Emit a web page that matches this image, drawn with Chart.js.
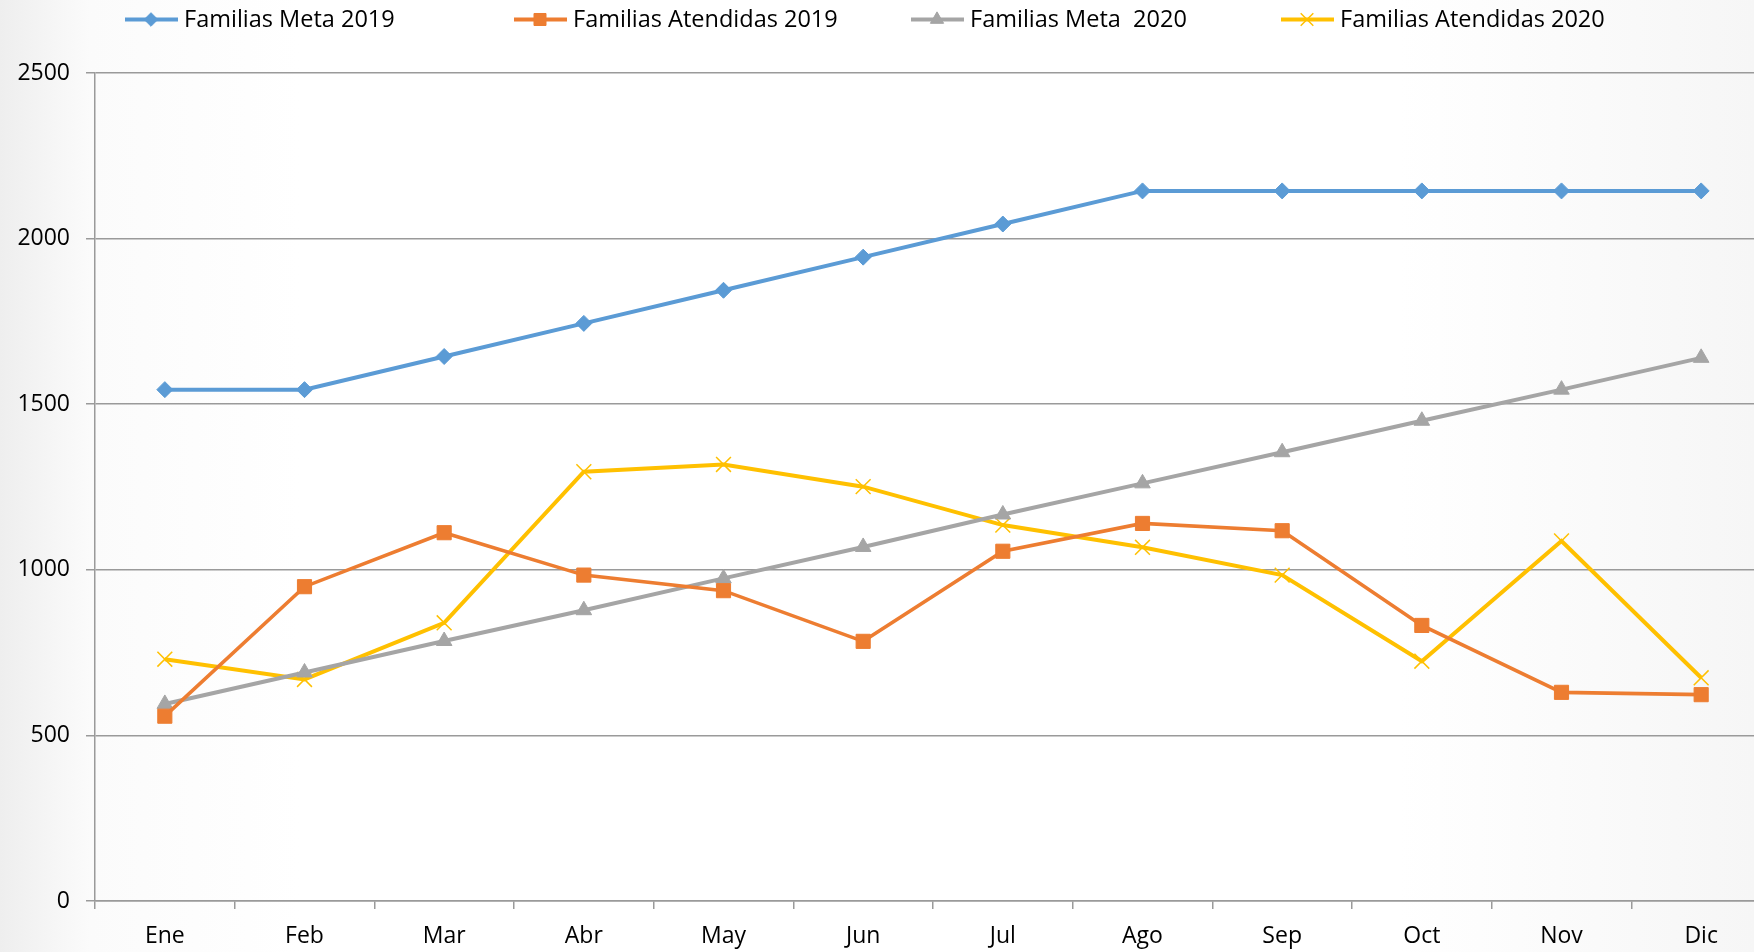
<!DOCTYPE html>
<html>
<head>
<meta charset="utf-8">
<script src="https://cdn.jsdelivr.net/npm/chart.js@4.4.0/dist/chart.umd.min.js"></script>
<style>
  html, body { margin:0; padding:0; width:1754px; height:952px; overflow:hidden;
    background: linear-gradient(to right, #eeeeee 0px, #fbfbfb 90px, #ffffff 300px, #ffffff 1400px, #f6f6f6 1754px); }
  #wrap { position:absolute; left:0; top:0; width:1771px; height:952px; }
</style>
</head>
<body>
<div id="wrap"><canvas id="c" width="1771" height="952"></canvas></div>
<script>
const categories = ["Ene","Feb","Mar","Abr","May","Jun","Jul","Ago","Sep","Oct","Nov","Dic"];
const seriesNames = ["Familias Meta 2019","Familias Atendidas 2019","Familias Meta  2020","Familias Atendidas 2020"];
const metaFamilias2019 = [1544,1544,1644,1744,1844,1944,2044,2144,2144,2144,2144,2144];
const atendidas2019 = [558,949,1112,984,937,784,1056,1140,1118,832,630,623];
const metaFamilias2020 = [595,690,785,878,974,1069,1167,1261,1355,1450,1544,1640];
const atendidas2020 = [730,669,840,1296,1318,1251,1135,1068,984,724,1087,674];
const yTicks = [0,500,1000,1500,2000,2500];

const FONT = "'Open Sans', 'Noto Sans', sans-serif";
const colors = ["#5B9BD5","#ED7D31","#A5A5A5","#FFC000"];
const styles = [
  {pointStyle:'rectRot', radius:8, bw:1, lw:4},
  {pointStyle:'rect', radius:10, bw:1, lw:3.6},
  {pointStyle:'triangle', radius:9, bw:1, lw:4},
  {pointStyle:'crossRot', radius:10.5, bw:1.5, lw:4}
];
const values = [metaFamilias2019, atendidas2019, metaFamilias2020, atendidas2020];

const datasets = values.map((v,i)=>({
  label: seriesNames[i],
  data: v,
  borderColor: colors[i],
  backgroundColor: colors[i],
  borderWidth: styles[i].lw,
  pointStyle: styles[i].pointStyle,
  pointRadius: styles[i].radius,
  pointBorderWidth: styles[i].bw,
  pointBorderColor: colors[i],
  pointBackgroundColor: colors[i],
  tension: 0,
  fill: false
}));

const legendX = [125, 514, 911, 1281];
const legendPlugin = {
  id: 'customLegend',
  afterDraw(chart) {
    const ctx = chart.ctx;
    ctx.save();
    chart.data.datasets.forEach((ds, i) => {
      const x0 = legendX[i], y = 19.5;
      ctx.strokeStyle = ds.borderColor;
      ctx.lineWidth = 4;
      ctx.lineCap = 'butt';
      ctx.beginPath(); ctx.moveTo(x0, y); ctx.lineTo(x0 + 53, y); ctx.stroke();
      ctx.fillStyle = ds.backgroundColor;
      ctx.strokeStyle = ds.borderColor;
      ctx.lineWidth = ds.pointBorderWidth;
      if (Chart.helpers && Chart.helpers.drawPoint) {
        Chart.helpers.drawPoint(ctx, {pointStyle: ds.pointStyle, radius: ds.pointRadius * 0.85, rotation: 0, borderWidth: ds.pointBorderWidth}, x0 + 26, y);
      }
      ctx.fillStyle = '#000';
      ctx.font = "23.5px " + FONT;
      ctx.textBaseline = 'middle';
      ctx.textAlign = 'left';
      ctx.fillText(ds.label, x0 + 59, y + 1);
    });
    ctx.restore();
  }
};

new Chart(document.getElementById('c'), {
  type: 'line',
  data: { labels: categories, datasets },
  plugins: [legendPlugin],
  options: {
    responsive: false,
    animation: false,
    devicePixelRatio: 1,
    layout: { autoPadding: false, padding: { top: 73, right: 0, left: 0, bottom: 0 } },
    plugins: { legend: { display: false }, tooltip: { enabled: false } },
    scales: {
      x: {
        type: 'category',
        offset: true,
        afterFit(s) { s.height = 51; },
        grid: { display: true, drawOnChartArea: false, drawTicks: true, tickLength: 8, color: '#9a9a9a', lineWidth: 1.5, offset: true },
        border: { display: true, color: '#9a9a9a', width: 1.5 },
        ticks: { color: '#000', font: { family: FONT, size: 23 }, padding: 14, maxRotation: 0, autoSkip: false }
      },
      y: {
        min: 0, max: 2500,
        afterFit(s) { s.width = 95; },
        afterBuildTicks(s) { s.ticks = yTicks.map(v => ({ value: v })); },
        grid: { color: '#9a9a9a', lineWidth: 1.5, tickLength: 9, drawTicks: true },
        border: { display: true, color: '#9a9a9a', width: 1.5 },
        ticks: { color: '#000', font: { family: FONT, size: 23 }, padding: 16, callback: v => String(v) }
      }
    }
  }
});
</script>
</body>
</html>
